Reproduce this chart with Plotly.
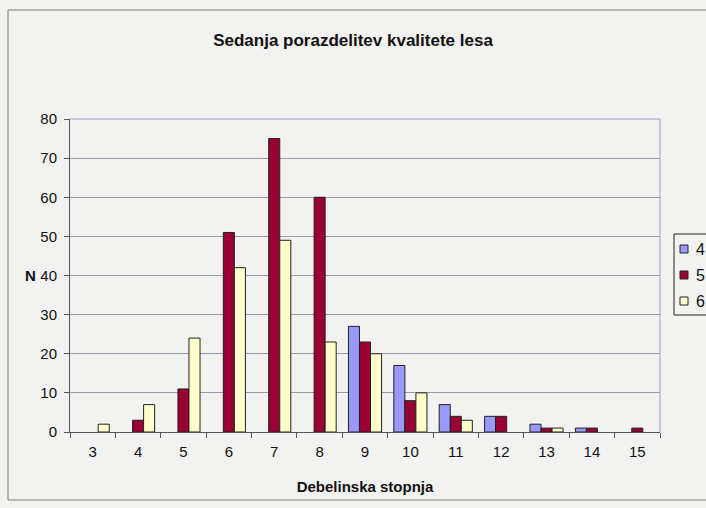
import plotly.graph_objects as go

categories = ["3", "4", "5", "6", "7", "8", "9", "10", "11", "12", "13", "14", "15"]
series_4 = [0, 0, 0, 0, 0, 0, 27, 17, 7, 4, 2, 1, 0]
series_5 = [0, 3, 11, 51, 75, 60, 23, 8, 4, 4, 1, 1, 1]
series_6 = [2, 7, 24, 42, 49, 23, 20, 10, 3, 0, 1, 0, 0]
series_names = ["4", "5", "6"]
colors = ["#9999FF", "#990033", "#FFFFCC"]

bg = "#F2F2F0"
fig = go.Figure()
for name, vals, col in zip(series_names, [series_4, series_5, series_6], colors):
    fig.add_trace(go.Bar(x=categories, y=[v if v else None for v in vals], name=name,
                         showlegend=False,
                         marker=dict(color=col, line=dict(color="#222222", width=1))))

L, R, T, B = 70, 660, 119, 432
W, H = 706, 508
pw, ph = R - L, B - T

def px(x):
    return (x - L) / pw

def py(y):
    return (B - y) / ph

shapes = [
    dict(type="rect", xref="paper", yref="paper", x0=px(8), x1=px(720), y0=py(500), y1=py(10),
         line=dict(color="#777777", width=1), fillcolor="rgba(0,0,0,0)", layer="below"),
    dict(type="line", xref="paper", yref="paper", x0=0, x1=1, y0=1, y1=1,
         line=dict(color="#9999CC", width=1)),
    dict(type="line", xref="paper", yref="paper", x0=1, x1=1, y0=0, y1=1,
         line=dict(color="#9999CC", width=1)),
    # legend box
    dict(type="rect", xref="paper", yref="paper", x0=px(674), x1=px(712), y0=py(315), y1=py(234),
         line=dict(color="#222222", width=1), fillcolor=bg),
]
annotations = [
    dict(text="<b>N</b>", xref="paper", yref="paper", x=px(30), y=py(275),
         xanchor="center", yanchor="middle", showarrow=False, font=dict(size=15)),
]
for i, (name, col) in enumerate(zip(series_names, colors)):
    cy = 249 + 26 * i
    shapes.append(dict(type="rect", xref="paper", yref="paper", x0=px(680), x1=px(688),
                       y0=py(cy + 4), y1=py(cy - 4), line=dict(color="#222222", width=1),
                       fillcolor=col))
    annotations.append(dict(text=name, xref="paper", yref="paper", x=px(694), y=py(cy),
                            xanchor="left", yanchor="middle", showarrow=False,
                            font=dict(size=16)))

fig.update_layout(
    width=W, height=H,
    margin=dict(l=L, r=W - R, t=T, b=H - B, pad=0, autoexpand=False),
    paper_bgcolor=bg, plot_bgcolor=bg,
    barmode="group", bargap=0.27, bargroupgap=0,
    font=dict(family="Liberation Sans, Arial", size=14, color="#111111"),
    title=dict(text="<b>Sedanja porazdelitev kvalitete lesa</b>", x=0.5, xanchor="center",
               y=1 - 40 / H, yanchor="middle", font=dict(size=17)),
    showlegend=False,
    xaxis=dict(type="category", showgrid=False, showline=True, linecolor="#555555",
               ticks="outside", tickson="boundaries", ticklen=5, tickcolor="#555555",
               tickfont=dict(size=15), automargin=False, ticklabelstandoff=6,
               title=dict(text="<b>Debelinska stopnja</b>", standoff=22, font=dict(size=15))),
    yaxis=dict(range=[0, 80], dtick=10, showgrid=True, gridcolor="#9A9AAA", gridwidth=1,
               showline=True, linecolor="#555555", ticks="outside", ticklen=5,
               tickcolor="#555555", tickfont=dict(size=15), zeroline=False, automargin=False,
               ticklabelstandoff=4),
    shapes=shapes,
    annotations=annotations,
)

fig.write_html("out.html", post_script="document.body.style.margin='0px';",
               config={"displayModeBar": False})
